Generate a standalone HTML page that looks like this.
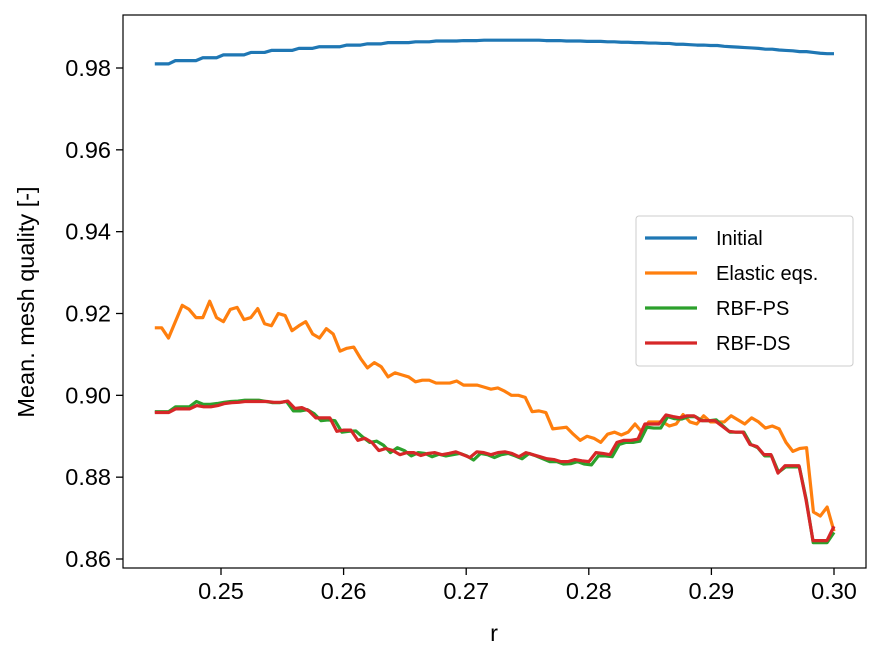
<!DOCTYPE html>
<html><head><meta charset="utf-8"><style>
body{margin:0;background:#fff;}
svg{display:block;font-family:"Liberation Sans",Arial,sans-serif;}
</style></head><body>
<svg id="chart" width="881" height="663"></svg>
<script>
const xStart = 0.2446, xEnd = 0.300;
const xTicks = [0.25, 0.26, 0.27, 0.28, 0.29, 0.30];
const xTickLabels = ["0.25","0.26","0.27","0.28","0.29","0.30"];
const yTicks = [0.86, 0.88, 0.90, 0.92, 0.94, 0.96, 0.98];
const yTickLabels = ["0.86","0.88","0.90","0.92","0.94","0.96","0.98"];
const seriesNames = ["Initial","Elastic eqs.","RBF-PS","RBF-DS"];
const initialValues = [0.981,0.981,0.981,0.9818,0.9818,0.9818,0.9818,0.9825,0.9825,0.9825,0.9832,0.9832,0.9832,0.9832,0.9838,0.9838,0.9838,0.9843,0.9843,0.9843,0.9843,0.9848,0.9848,0.9848,0.9852,0.9852,0.9852,0.9852,0.9856,0.9856,0.9856,0.9859,0.9859,0.9859,0.9862,0.9862,0.9862,0.9862,0.9864,0.9864,0.9864,0.9866,0.9866,0.9866,0.9866,0.9867,0.9867,0.9867,0.9868,0.9868,0.9868,0.9868,0.9868,0.9868,0.9868,0.9868,0.9868,0.9867,0.9867,0.9867,0.9866,0.9866,0.9866,0.9865,0.9865,0.9865,0.9864,0.9864,0.9863,0.9863,0.9862,0.9862,0.9861,0.9861,0.986,0.986,0.9858,0.9858,0.9857,0.9856,0.9856,0.9855,0.9855,0.9853,0.9852,0.9851,0.985,0.9849,0.9848,0.9846,0.9846,0.9844,0.9843,0.9842,0.984,0.984,0.9838,0.9836,0.9835,0.9835];
const elasticValues = [0.9165,0.9165,0.914,0.918,0.922,0.921,0.919,0.919,0.923,0.919,0.918,0.921,0.9215,0.9185,0.919,0.9212,0.9175,0.917,0.920,0.9195,0.9158,0.917,0.918,0.915,0.914,0.9163,0.915,0.9108,0.9115,0.9118,0.909,0.9067,0.908,0.907,0.9045,0.9055,0.905,0.9045,0.9033,0.9037,0.9037,0.903,0.903,0.903,0.9035,0.9025,0.9025,0.9025,0.902,0.9015,0.9018,0.901,0.900,0.900,0.8995,0.896,0.8962,0.8958,0.8918,0.892,0.8922,0.8905,0.889,0.890,0.8895,0.8885,0.8905,0.891,0.8903,0.891,0.893,0.891,0.8935,0.8935,0.8935,0.8925,0.893,0.8953,0.8935,0.893,0.895,0.8935,0.8935,0.8935,0.895,0.894,0.893,0.8945,0.8935,0.892,0.8925,0.8918,0.8885,0.8863,0.887,0.8872,0.8715,0.8705,0.8727,0.8668];
const rbfPsValues = [0.896,0.896,0.896,0.8972,0.8972,0.8972,0.8985,0.8978,0.8978,0.898,0.8983,0.8985,0.8986,0.8988,0.8988,0.8988,0.8985,0.8982,0.8982,0.8985,0.8962,0.8962,0.8965,0.8955,0.8938,0.894,0.8938,0.891,0.8912,0.8913,0.8898,0.8885,0.8888,0.8878,0.886,0.8872,0.8865,0.8852,0.886,0.8858,0.885,0.8856,0.8852,0.8855,0.8858,0.8852,0.8842,0.8858,0.8855,0.8848,0.8855,0.8858,0.8852,0.8845,0.8858,0.8852,0.8845,0.8838,0.8838,0.8832,0.8833,0.8838,0.8832,0.883,0.8852,0.8852,0.885,0.888,0.8885,0.8885,0.8888,0.8922,0.892,0.892,0.8948,0.8943,0.8942,0.8948,0.8948,0.8938,0.8938,0.894,0.8925,0.891,0.891,0.891,0.888,0.8872,0.8852,0.8852,0.8812,0.8825,0.8825,0.8825,0.8745,0.864,0.864,0.864,0.8665];
const rbfDsValues = [0.8958,0.8958,0.8958,0.8967,0.8967,0.8967,0.8975,0.8972,0.8972,0.8975,0.898,0.8982,0.8983,0.8985,0.8985,0.8985,0.8985,0.8983,0.8983,0.8986,0.8968,0.897,0.8962,0.8945,0.8945,0.8945,0.8912,0.8915,0.8915,0.889,0.8895,0.8885,0.8865,0.887,0.8865,0.8855,0.886,0.886,0.8853,0.8858,0.886,0.8855,0.8858,0.8862,0.8855,0.8848,0.8862,0.886,0.8855,0.886,0.8862,0.8858,0.885,0.886,0.8855,0.885,0.8845,0.8843,0.8838,0.8838,0.8843,0.884,0.8838,0.886,0.8858,0.8855,0.8885,0.889,0.889,0.8893,0.893,0.893,0.893,0.8952,0.8948,0.8945,0.895,0.895,0.8938,0.8938,0.8938,0.8925,0.8912,0.891,0.891,0.888,0.8875,0.8855,0.8855,0.881,0.8828,0.8828,0.8828,0.8745,0.8645,0.8645,0.8645,0.868];
const colors = ["#1f77b4","#ff7f0e","#2ca02c","#d62728"];
const allSeries = [initialValues, elasticValues, rbfPsValues, rbfDsValues];

const NS = "http://www.w3.org/2000/svg";
const svg = document.getElementById("chart");
const L=123, R=866, T=15, B=568;
function xs(v){ return 221 + (v-0.25)*(834-221)/0.05; }
function ys(v){ return 559 - (v-0.86)*(559-68)/0.12; }
function mk(tag, attrs, parent){ const e=document.createElementNS(NS,tag); for(const k in attrs) e.setAttribute(k,attrs[k]); (parent||svg).appendChild(e); return e; }

allSeries.forEach((vals, si) => {
  const n = vals.length;
  const pts = vals.map((v,i)=> xs(xStart + (xEnd-xStart)*i/(n-1)).toFixed(2)+","+ys(v).toFixed(2)).join(" ");
  const pl = mk("polyline",{points:pts,fill:"none",stroke:colors[si],"stroke-width":3.2,"stroke-linejoin":"round"});
  
  
});

const frame = mk("rect",{x:L,y:T,width:R-L,height:B-T,fill:"none",stroke:"#000","stroke-width":1.2});



xTicks.forEach((t,i)=>{
  const x = xs(t);
  const tk = mk("line",{x1:x,x2:x,y1:B,y2:B+7,stroke:"#000","stroke-width":1.3});
  
  
  const tx = mk("text",{x:x,y:B+31,"text-anchor":"middle","font-size":23.5});
  tx.textContent = xTickLabels[i];
  
  
});
yTicks.forEach((t,i)=>{
  const y = ys(t);
  const tk = mk("line",{x1:L-7,x2:L,y1:y,y2:y,stroke:"#000","stroke-width":1.3});
  
  
  const tx = mk("text",{x:L-12,y:y+8,"text-anchor":"end","font-size":23.5});
  tx.textContent = yTickLabels[i];
  
  
});

const xt = mk("text",{x:494,y:641,"text-anchor":"middle","font-size":23.5});
xt.textContent = "r";


const yt = mk("text",{x:0,y:0,"text-anchor":"middle","font-size":23.5,transform:"translate(34,302) rotate(-90)"});
yt.textContent = "Mean. mesh quality [-]";



const lg = mk("g",{});


mk("rect",{x:636,y:216,width:217,height:150,rx:3,fill:"#fff",stroke:"#ccc","stroke-width":1},lg);
seriesNames.forEach((nm,i)=>{
  const y = 238 + i*35;
  const ln = mk("line",{x1:645,x2:697,y1:y,y2:y,stroke:colors[i],"stroke-width":3.2},lg);
  
  
  const tx = mk("text",{x:716,y:y+7,"font-size":20},lg);
  tx.textContent = nm;
  
  
});
</script>
</body></html>
